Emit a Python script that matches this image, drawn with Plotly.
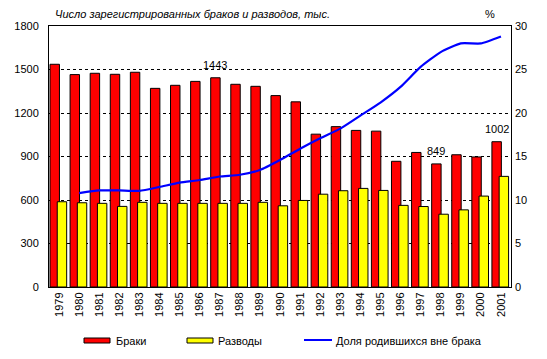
import plotly.graph_objects as go

years = list(range(1979, 2002))
marriages = [1536, 1465, 1474, 1467, 1481, 1370, 1391, 1418, 1443, 1398, 1384, 1320,
             1277, 1054, 1106, 1080, 1075, 867, 928, 849, 912, 897, 1002]
divorces = [588, 581, 577, 556, 584, 577, 577, 577, 577, 577, 584, 560,
            597, 640, 664, 680, 666, 563, 555, 502, 532, 627, 763]
share_years = list(range(1980, 2002))
share = [10.8, 11.1, 11.1, 11.05, 11.5, 12.0, 12.3, 12.7, 12.9, 13.45, 14.6,
         15.9, 17.1, 18.2, 19.7, 21.2, 23.0, 25.3, 27.0, 28.0, 28.0, 28.8]
labeled_years = [1987, 1998, 2001]

FONT = "Liberation Sans, Arial, sans-serif"
OFF = 8  # browser body margin
WIN_W, WIN_H = 547, 359
PL, PR, PT, PB = 49, 511, 26, 287  # plot area in window pixels
W, H = WIN_W - OFF, WIN_H - OFF
L, T = PL - OFF, PT - OFF
R, B = W - (PR - OFF), H - (PB - OFF)
pw, ph = PR - PL, PB - PT

def px(x):
    return (x - PL) / pw

def py(y):
    return (PB - y) / ph

fig = go.Figure()
fig.add_trace(go.Bar(x=years, y=marriages, name="Браки", offset=-0.45, width=0.47,
                     marker=dict(color="#FF0000", line=dict(color="black", width=1)),
                     opacity=1))
fig.add_trace(go.Bar(x=years, y=divorces, name="Разводы", offset=-0.09, width=0.47,
                     marker=dict(color="#FFFF00", line=dict(color="black", width=1)),
                     opacity=1))
fig.add_trace(go.Scatter(x=share_years, y=share, yaxis="y2", mode="lines",
                         name="Доля родившихся вне брака",
                         line=dict(color="#0000FF", width=2.2, shape="spline", smoothing=0.5)))

annotations = []
for yr in labeled_years:
    v = marriages[years.index(yr)]
    annotations.append(dict(x=yr - 0.215, y=v, xref="x", yref="y", text=str(v),
                            showarrow=False, yshift=13, font=dict(size=11, color="black")))

annotations.append(dict(x=px(53), y=py(14), xref="paper", yref="paper", xanchor="left",
                        yanchor="middle", showarrow=False,
                        text="<i>Число зарегистрированных браков и разводов, тыс.</i>",
                        font=dict(size=11, color="black")))
annotations.append(dict(x=px(490), y=py(14), xref="paper", yref="paper", xanchor="center",
                        yanchor="middle", showarrow=False, text="%",
                        font=dict(size=11, color="black")))

# custom legend
shapes = []
shapes.append(dict(type="rect", xref="paper", yref="paper", x0=px(84), x1=px(110),
                   y0=py(343), y1=py(338), fillcolor="#FF0000", line=dict(color="black", width=1)))
shapes.append(dict(type="rect", xref="paper", yref="paper", x0=px(187), x1=px(213),
                   y0=py(343), y1=py(338), fillcolor="#FFFF00", line=dict(color="black", width=1)))
shapes.append(dict(type="line", xref="paper", yref="paper", x0=px(304), x1=px(332),
                   y0=py(340), y1=py(340), line=dict(color="#0000FF", width=2)))
for xx, txt in [(114, "Браки"), (216, "Разводы"), (334, "Доля родившихся вне брака")]:
    annotations.append(dict(x=px(xx), y=py(340.5), xref="paper", yref="paper", xanchor="left",
                            yanchor="middle", showarrow=False, text=txt,
                            font=dict(size=11, color="black")))

fig.update_layout(
    width=W, height=H,
    margin=dict(l=L, r=R, t=T, b=B, pad=0, autoexpand=False),
    barmode="overlay",
    showlegend=False,
    plot_bgcolor="white", paper_bgcolor="white",
    font=dict(family=FONT, size=11, color="black"),
    xaxis=dict(range=[1978.5, 2001.5], tickmode="array", tickvals=years,
               ticktext=[str(y) for y in years], tickangle=-90, showgrid=False,
               showline=True, linecolor="black", linewidth=1, mirror=True,
               ticks="", zeroline=False, tickfont=dict(size=11)),
    yaxis=dict(range=[0, 1800], tickmode="array", tickvals=[0, 300, 600, 900, 1200, 1500, 1800],
               showgrid=True, gridcolor="black", griddash="3px,3px", gridwidth=1,
               showline=True, linecolor="black", linewidth=1, mirror=True,
               ticks="", zeroline=False, tickfont=dict(size=11),
               ticklabelstandoff=7),
    yaxis2=dict(range=[0, 30], overlaying="y", side="right", tickmode="array",
                tickvals=[0, 5, 10, 15, 20, 25, 30], showgrid=False, zeroline=False,
                showline=False, ticks="", tickfont=dict(size=11), ticklabelstandoff=3),
    annotations=annotations,
    shapes=shapes,
)

fig.write_html("out.html")
